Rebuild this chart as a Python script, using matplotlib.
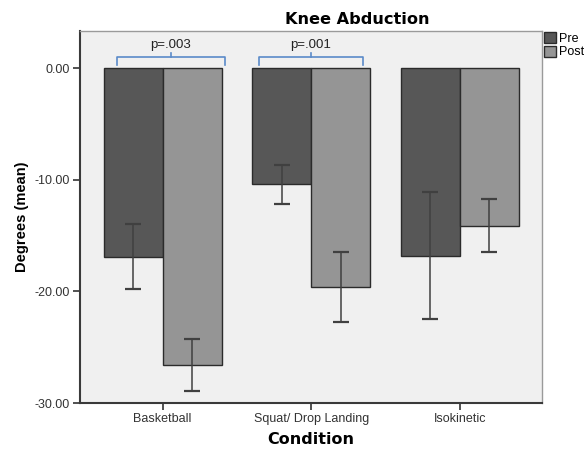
import matplotlib
matplotlib.use('Agg')
import matplotlib.pyplot as plt
import numpy as np
from matplotlib.patches import Patch

# data
conditions = ['Basketball', 'Squat/ Drop Landing', 'Isokinetic']
pre_mean = [-16.9, -10.4, -16.8]
post_mean = [-26.6, -19.6, -14.1]
pre_err = [2.9, 1.75, 5.7]
post_err = [2.35, 3.15, 2.4]
p_labels = ['p=.003', 'p=.001']

plt.rcParams['font.family'] = ['Liberation Sans', 'DejaVu Sans']

fig = plt.figure(figsize=(5.84, 4.49), dpi=100)
ax = fig.add_axes([80 / 584, 1 - 403 / 449, 462 / 584, 372 / 449])
ax.set_facecolor('#f0f0f0')

x = np.arange(len(conditions))
w = 0.397

ax.bar(x - w / 2, pre_mean, width=w, color='#575757', edgecolor='#2b2b2b', linewidth=1.0, zorder=2)
ax.bar(x + w / 2, post_mean, width=w, color='#959595', edgecolor='#2b2b2b', linewidth=1.0, zorder=2)

ax.errorbar(x - w / 2, pre_mean, yerr=pre_err, fmt='none', ecolor='#404040',
            elinewidth=1.1, capsize=5.5, capthick=1.6, zorder=3)
ax.errorbar(x + w / 2, post_mean, yerr=post_err, fmt='none', ecolor='#404040',
            elinewidth=1.1, capsize=5.5, capthick=1.6, zorder=3)

# significance brackets
brackets = [(-0.31, 0.42), (0.645, 1.35)]
bc = '#5b8bc9'
for (a, b), lab in zip(brackets, p_labels):
    mid = (a + b) / 2
    ax.plot([a, a, b, b], [0.3, 0.99, 0.99, 0.3], color=bc, lw=1.2,
            solid_joinstyle='round', zorder=4)
    ax.plot([mid, mid], [0.99, 1.4], color=bc, lw=1.2, zorder=4)
    ax.text(mid, 1.5, lab, ha='center', va='bottom', fontsize=9.5, color='#222222')

ax.set_xlim(-0.556, 2.552)
ax.set_ylim(-30, 3.33)
ax.set_yticks([0, -10, -20, -30])
ax.set_yticklabels(['0.00', '-10.00', '-20.00', '-30.00'])
ax.set_xticks(x)
ax.set_xticklabels(conditions)
ax.tick_params(axis='both', labelsize=9, colors='#333333', length=5, width=1.2,
               direction='out', labelcolor='#333333', pad=2.5)

for s in ['left', 'bottom']:
    ax.spines[s].set_color('#3a3a3a')
    ax.spines[s].set_linewidth(1.5)
for s in ['top', 'right']:
    ax.spines[s].set_color('#9a9a9a')
    ax.spines[s].set_linewidth(1.0)

ax.set_ylabel('Degrees (mean)', fontsize=10.5, fontweight='bold', labelpad=4)
ax.set_xlabel('Condition', fontsize=11.5, fontweight='bold', family='DejaVu Sans',
              labelpad=5)
fig.text(357 / 584, 1 - 19 / 449, 'Knee Abduction', ha='center', va='center',
         fontsize=11.6, fontweight='bold', family='DejaVu Sans')

handles = [Patch(facecolor='#575757', edgecolor='#2b2b2b', label='Pre'),
           Patch(facecolor='#959595', edgecolor='#2b2b2b', label='Post')]
fig.legend(handles=handles, loc='upper left', bbox_to_anchor=(543 / 584, 1 - 31 / 449),
           frameon=False, fontsize=9, handlelength=0.95, handleheight=1.0,
           handletextpad=0.25, labelspacing=0.08, borderpad=0.05, borderaxespad=0)

fig.savefig('out.png', dpi=100)
